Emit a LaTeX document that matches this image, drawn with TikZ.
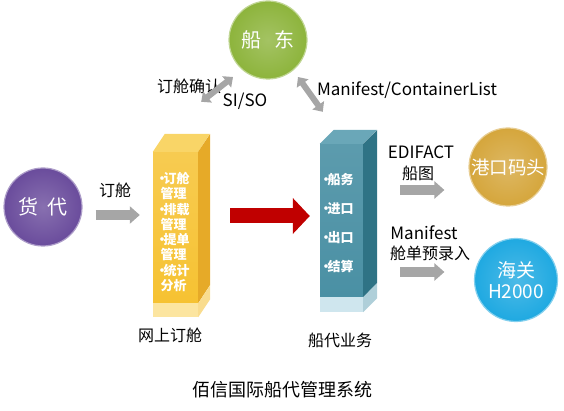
\documentclass[tikz,border=0pt]{standalone}
\usepackage{fontspec}
\setmainfont{Noto Sans CJK SC}
\usetikzlibrary{arrows.meta}

\definecolor{agentpurple}{HTML}{6A4C9C}
\definecolor{ownergreen}{HTML}{8DB43C}
\definecolor{portgold}{HTML}{D5A63C}
\definecolor{customsblue}{HTML}{1FA9E1}
\definecolor{arrowgray}{HTML}{A6A6A6}
\definecolor{arrowred}{HTML}{C00000}
\definecolor{yellowfront}{HTML}{F6C232}
\definecolor{yellowside}{HTML}{E6AA28}
\definecolor{yellowtop}{HTML}{F9D567}
\definecolor{yellowbase}{HTML}{FCE5A0}
\definecolor{tealfront}{HTML}{4A90A4}
\definecolor{tealside}{HTML}{2F7385}
\definecolor{tealtop}{HTML}{6AA7B8}
\definecolor{tealbase}{HTML}{CFE6EE}

\newcommand{\dotitem}{\makebox[3pt][c]{·}}

\tikzset{
  party/.style={circle, minimum size=78pt, inner sep=0pt, text=white,
    font=\fontsize{20}{22}\selectfont, draw=#1!55!white, line width=1.2pt,
    inner color=#1!80!white, outer color=#1},
  lbl/.style={font=\fontsize{16}{18}\selectfont, inner sep=0pt},
  latinlbl/.style={font=\fontsize{17}{19}\selectfont, inner sep=0pt},
  boxtext/.style={text=white, font=\bfseries\fontsize{13}{15.3}\selectfont,
    align=left, inner sep=0pt},
  flowarrow/.style={arrowgray, line width=10pt, -{Triangle[length=10pt,width=17pt]}},
  swaparrow/.style={arrowgray, line width=6pt,
    {Triangle[length=8pt,width=14pt]}-{Triangle[length=8pt,width=14pt]}},
  mainarrow/.style={arrowred, line width=15pt, -{Triangle[length=17pt,width=35pt]}},
}

\begin{document}
\begin{tikzpicture}[x=1pt,y=-1pt]
    \useasboundingbox (0,0) rectangle (564,411);

    % freight agent
    \node[party=agentpurple] (agent) at (43,207) {货\hspace{0.45em}代};
    \node[lbl] (bookinglabel) at (115,190) {订舱};

    % ship owner
    \node[party=ownergreen] (owner) at (268,40) {船\hspace{0.7em}东};

    %%%%%%%%%%%%%%%%%%%%%%%%%%%%%%%%%%%%%%%%%%%%%%%%%%%%%%

    % online booking column
    \node[minimum width=45pt, minimum height=151pt, inner sep=0pt,
      top color=yellowfront!85!white, bottom color=yellowfront] (booking) at (175.5,227.5) {};
    \fill[yellowbase] (booking.south west) rectangle ++(45,14);
    \fill[yellowtop] (booking.north west) -- ++(12,-18) -- ++(45,0) -- (booking.north east) -- cycle;
    \fill[yellowside] (booking.north east) -- ++(12,-18) -- ++(0,151) -- (booking.south east) -- cycle;
    \fill[yellowbase!85!yellowside] (booking.south east) -- ++(12,-18) -- ++(0,14) -- ++(-12,18) -- cycle;
    \node[boxtext] (bookingtext) at (175,232)
      {\dotitem{}订舱\\管理\\\dotitem{}排载\\管理\\\dotitem{}提单\\管理\\\dotitem{}统计\\分析};
    \node[lbl] (bookingname) at (170,335) {网上订舱};

    % shipping agency column
    \node[minimum width=43pt, minimum height=153pt, inner sep=0pt,
      top color=tealfront!90!white, bottom color=tealfront] (agency) at (341.5,220.5) {};
    \fill[tealbase] (agency.south west) rectangle ++(43,15);
    \fill[tealtop] (agency.north west) -- ++(14,-14) -- ++(43,0) -- (agency.north east) -- cycle;
    \fill[tealside] (agency.north east) -- ++(14,-14) -- ++(0,153) -- (agency.south east) -- cycle;
    \fill[tealbase!80!tealside] (agency.south east) -- ++(14,-14) -- ++(0,15) -- ++(-14,14) -- cycle;
    \node[boxtext, font=\bfseries\fontsize{13}{29}\selectfont] (agencytext) at (339,223.5)
      {\dotitem{}船务\\\dotitem{}进口\\\dotitem{}出口\\\dotitem{}结算};
    \node[lbl] (agencyname) at (340,340) {船代业务};

    %%%%%%%%%%%%%%%%%%%%%%%%%%%%%%%%%%%%%%%%%%%%%%%%%%%%%%

    % port terminal
    \node[party=portgold, font=\fontsize{18.5}{20}\selectfont] (port) at (508,167) {港口码头};
    \node[latinlbl] (edifact) at (421,152) {EDIFACT};
    \node[lbl] (stowage) at (418,173) {船图};

    % customs
    \node[party=customsblue, minimum size=83pt, align=center,
      font=\fontsize{19}{21}\selectfont] (customs) at (516,280) {海关\\H2000};
    \node[latinlbl] (manifest) at (424,233) {Manifest};
    \node[lbl] (prerecord) at (430,253) {舱单预录入};

    % owner exchange labels
    \node[lbl] (confirm) at (189,86) {订舱确认};
    \node[latinlbl] (siso) at (245,101) {SI/SO};
    \node[latinlbl] (containerlist) at (407,90) {Manifest/ContainerList};

    %%%%%%%%%%%%%%%%%%%%%%%%%%%%%%%%%%%%%%%%%%%%%%%%%%%%%%

    % arrows
    \draw[flowarrow] ([shift={(13,8)}]agent.east) -- ([shift={(-13,-12.5)}]booking.west);
    \draw[mainarrow] ([shift={(32,-11.5)}]booking.east) -- ([shift={(-10,-4.5)}]agency.west);
    \draw[swaparrow] ([shift={(3,-50)}]booking.north east) -- ([shift={(-7,9)}]owner.south west);
    \draw[swaparrow] ([shift={(2,9)}]owner.south east) -- ([shift={(3,-32)}]agency.north west);
    \draw[flowarrow] ([shift={(37,-30.5)}]agency.east) -- ([shift={(-24,23)}]port.west);
    \draw[flowarrow] ([shift={(37,51.5)}]agency.east) -- ([shift={(-29.5,-8)}]customs.west);

    % system title
    \node[lbl, font=\fontsize{18}{20}\selectfont] (title) at (282,390) {佰信国际船代管理系统};

\end{tikzpicture}
\end{document}
